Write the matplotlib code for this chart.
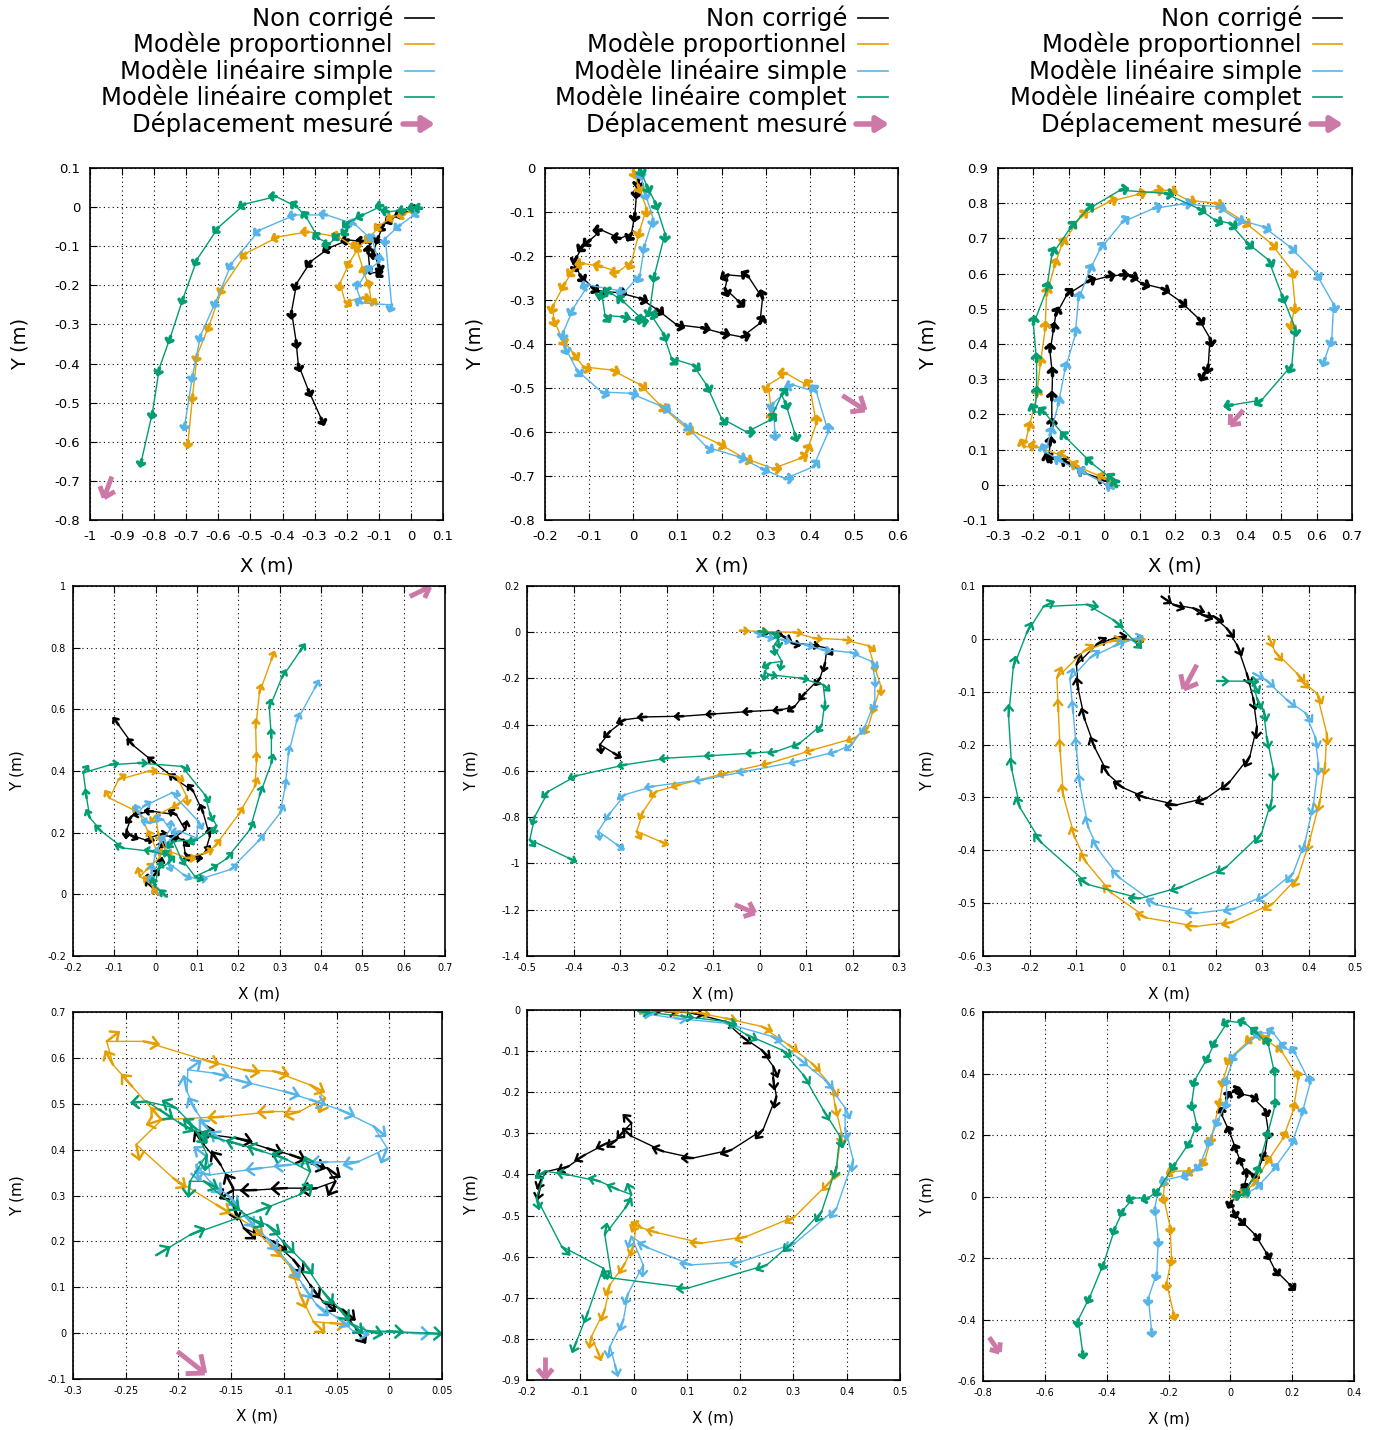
import numpy as np
import matplotlib
matplotlib.use("Agg")
import matplotlib.pyplot as plt
from matplotlib.collections import LineCollection
from matplotlib.ticker import FuncFormatter, FixedLocator

# ---------------- legend / styles ----------------
series_labels = ["Non corrigé", "Modèle proportionnel", "Modèle linéaire simple", "Modèle linéaire complet"]
measured_label = "Déplacement mesuré"
series_colors = ["#000000", "#E69F00", "#56B4E9", "#009E73"]
pink = "#CC79A7"

# ---------------- panel 1 ----------------
p1_black_x = [0.023, -0.029, -0.060, -0.086, -0.101, -0.117, -0.101, -0.091, -0.127, -0.133, -0.127, -0.148, -0.195, -0.254, -0.312, -0.356, -0.372, -0.358, -0.351, -0.320, -0.280]
p1_black_y = [-0.003, -0.016, -0.030, -0.046, -0.076, -0.114, -0.148, -0.165, -0.169, -0.118, -0.093, -0.088, -0.084, -0.104, -0.139, -0.195, -0.267, -0.342, -0.402, -0.467, -0.540]
p1_orange_x = [0.013, -0.020, -0.055, -0.096, -0.127, -0.160, -0.190, -0.221, -0.205, -0.150, -0.122, -0.130, -0.145, -0.169, -0.226, -0.320, -0.413, -0.514, -0.587, -0.628, -0.666, -0.680, -0.694]
p1_orange_y = [-0.003, -0.018, -0.024, -0.046, -0.076, -0.100, -0.139, -0.195, -0.242, -0.232, -0.250, -0.205, -0.170, -0.105, -0.076, -0.063, -0.076, -0.118, -0.206, -0.301, -0.378, -0.480, -0.598]
p1_blue_x = [0.023, -0.034, -0.080, -0.060, -0.153, -0.169, -0.138, -0.100, -0.120, -0.174, -0.263, -0.361, -0.472, -0.559, -0.607, -0.655, -0.680, -0.704]
p1_blue_y = [-0.012, -0.046, -0.080, -0.250, -0.245, -0.208, -0.165, -0.140, -0.085, -0.044, -0.020, -0.020, -0.059, -0.144, -0.240, -0.327, -0.429, -0.553]
p1_green_x = [0.033, 0.013, -0.018, -0.070, -0.088, -0.150, -0.195, -0.200, -0.226, -0.254, -0.288, -0.325, -0.356, -0.420, -0.517, -0.600, -0.666, -0.709, -0.749, -0.784, -0.805, -0.839]
p1_green_y = [-0.003, -0.001, -0.007, -0.012, 0.004, -0.020, -0.039, -0.058, -0.071, -0.094, -0.080, -0.027, 0.001, 0.027, 0.008, -0.052, -0.133, -0.231, -0.331, -0.412, -0.523, -0.646]
p1_pink_x = [-0.932, -0.956]
p1_pink_y = [-0.689, -0.743]

# ---------------- panel 2 ----------------
p2_black_x = [0.015, 0.012, 0.008, 0.004, -0.004, -0.030, -0.072, -0.098, -0.113, -0.128, -0.132, -0.121, -0.094, -0.075, -0.034, 0.015, 0.053, 0.098, 0.155, 0.200, 0.246, 0.287, 0.293, 0.261, 0.215, 0.208, 0.238]
p2_black_y = [-0.005, -0.027, -0.050, -0.103, -0.149, -0.160, -0.141, -0.164, -0.175, -0.202, -0.217, -0.243, -0.270, -0.281, -0.283, -0.296, -0.321, -0.356, -0.363, -0.375, -0.384, -0.353, -0.296, -0.247, -0.243, -0.274, -0.302]
p2_orange_x = [0.000, 0.011, 0.030, 0.015, -0.004, -0.034, -0.072, -0.113, -0.136, -0.155, -0.181, -0.181, -0.162, -0.136, -0.113, -0.049, 0.015, 0.061, 0.121, 0.193, 0.253, 0.317, 0.378, 0.393, 0.415, 0.400, 0.347, 0.306, 0.313]
p2_orange_y = [-0.005, -0.039, -0.092, -0.141, -0.213, -0.236, -0.224, -0.217, -0.232, -0.262, -0.312, -0.342, -0.387, -0.421, -0.452, -0.459, -0.492, -0.539, -0.592, -0.626, -0.660, -0.683, -0.660, -0.645, -0.581, -0.497, -0.467, -0.493, -0.554]
p2_blue_x = [0.015, 0.026, 0.045, 0.026, 0.015, -0.019, -0.102, -0.136, -0.158, -0.155, -0.128, -0.072, -0.007, 0.068, 0.117, 0.166, 0.238, 0.291, 0.344, 0.408, 0.442, 0.415, 0.362, 0.317, 0.321]
p2_blue_y = [-0.008, -0.054, -0.115, -0.175, -0.243, -0.281, -0.266, -0.319, -0.372, -0.406, -0.459, -0.509, -0.512, -0.543, -0.583, -0.634, -0.656, -0.683, -0.706, -0.679, -0.600, -0.509, -0.493, -0.535, -0.600]
p2_green_x = [0.015, 0.030, 0.049, 0.072, 0.049, 0.038, 0.023, -0.022, -0.049, -0.072, -0.064, -0.026, 0.015, 0.038, 0.068, 0.087, 0.136, 0.166, 0.200, 0.257, 0.310, 0.336, 0.344, 0.366]
p2_green_y = [-0.001, -0.039, -0.077, -0.149, -0.240, -0.319, -0.346, -0.304, -0.285, -0.281, -0.335, -0.338, -0.350, -0.330, -0.376, -0.433, -0.448, -0.493, -0.569, -0.600, -0.573, -0.516, -0.531, -0.603]
p2_pink_x = [0.474, 0.525]
p2_pink_y = [-0.517, -0.550]

# ---------------- panel 3 ----------------
p3_black_x = [0.030, 0.002, -0.054, -0.101, -0.139, -0.158, -0.153, -0.148, -0.148, -0.146, -0.153, -0.144, -0.137, -0.106, -0.047, 0.007, 0.045, 0.073, 0.106, 0.163, 0.214, 0.266, 0.299, 0.294, 0.283]
p3_black_y = [0.000, 0.013, 0.033, 0.061, 0.075, 0.066, 0.113, 0.165, 0.241, 0.310, 0.378, 0.437, 0.482, 0.539, 0.577, 0.591, 0.596, 0.594, 0.572, 0.558, 0.522, 0.473, 0.416, 0.340, 0.317]
p3_orange_x = [0.030, 0.002, -0.073, -0.111, -0.191, -0.226, -0.214, -0.191, -0.181, -0.167, -0.163, -0.141, -0.120, -0.066, 0.014, 0.095, 0.144, 0.183, 0.236, 0.313, 0.393, 0.471, 0.530, 0.539, 0.530]
p3_orange_y = [0.000, 0.018, 0.051, 0.080, 0.108, 0.108, 0.156, 0.250, 0.340, 0.440, 0.539, 0.620, 0.681, 0.762, 0.804, 0.825, 0.835, 0.837, 0.809, 0.800, 0.749, 0.686, 0.610, 0.511, 0.463]
p3_blue_x = [0.026, -0.054, -0.120, -0.167, -0.153, -0.130, -0.111, -0.082, -0.073, -0.043, -0.012, 0.051, 0.139, 0.224, 0.321, 0.374, 0.450, 0.525, 0.598, 0.648, 0.643, 0.624]
p3_blue_y = [-0.010, 0.033, 0.066, 0.094, 0.141, 0.227, 0.326, 0.425, 0.525, 0.605, 0.669, 0.746, 0.785, 0.798, 0.790, 0.755, 0.733, 0.676, 0.601, 0.513, 0.416, 0.359]
p3_green_x = [0.035, 0.026, -0.035, -0.106, -0.167, -0.197, -0.191, -0.191, -0.200, -0.163, -0.148, -0.096, -0.049, 0.045, 0.172, 0.266, 0.313, 0.355, 0.403, 0.464, 0.502, 0.539, 0.530, 0.445, 0.362]
p3_green_y = [-0.005, 0.014, 0.061, 0.132, 0.203, 0.208, 0.255, 0.350, 0.456, 0.553, 0.653, 0.729, 0.781, 0.837, 0.828, 0.785, 0.752, 0.743, 0.688, 0.639, 0.539, 0.446, 0.340, 0.241, 0.227]
p3_pink_x = [0.393, 0.356]
p3_pink_y = [0.212, 0.170]

# ---------------- panel 4 ----------------
p4_black_x = [0.006, -0.010, -0.022, -0.006, 0.010, 0.010, 0.035, 0.071, 0.050, -0.006, -0.034, -0.058, -0.070, -0.062, -0.026, 0.006, 0.035, 0.067, 0.071, 0.091, 0.119, 0.131, 0.115, 0.091, 0.050, -0.002, -0.054, -0.090]
p4_black_y = [-0.001, 0.026, 0.037, 0.058, 0.091, 0.145, 0.172, 0.210, 0.258, 0.269, 0.264, 0.253, 0.210, 0.193, 0.177, 0.193, 0.188, 0.177, 0.134, 0.118, 0.134, 0.188, 0.264, 0.334, 0.372, 0.426, 0.483, 0.550]
p4_orange_x = [0.006, -0.014, -0.038, -0.022, 0.010, -0.010, -0.040, -0.111, -0.090, -0.018, 0.050, 0.075, 0.059, 0.000, 0.006, 0.023, 0.075, 0.119, 0.143, 0.200, 0.240, 0.244, 0.242, 0.251, 0.280]
p4_orange_y = [-0.001, 0.037, 0.058, 0.080, 0.120, 0.180, 0.265, 0.312, 0.372, 0.399, 0.383, 0.318, 0.296, 0.255, 0.200, 0.145, 0.118, 0.134, 0.156, 0.258, 0.350, 0.431, 0.540, 0.653, 0.761]
p4_blue_x = [0.023, -0.006, -0.010, -0.002, 0.010, 0.035, 0.018, -0.014, -0.042, -0.030, 0.039, 0.103, 0.099, 0.059, 0.035, 0.031, 0.067, 0.103, 0.180, 0.248, 0.301, 0.313, 0.321, 0.341, 0.385]
p4_blue_y = [-0.006, 0.037, 0.069, 0.123, 0.166, 0.210, 0.242, 0.231, 0.264, 0.285, 0.329, 0.237, 0.183, 0.204, 0.177, 0.102, 0.064, 0.048, 0.080, 0.172, 0.264, 0.345, 0.453, 0.561, 0.669]
p4_green_x = [0.027, -0.002, 0.006, 0.031, 0.035, -0.006, -0.078, -0.131, -0.159, -0.167, -0.175, -0.111, -0.042, 0.063, 0.119, 0.131, 0.147, 0.099, 0.043, 0.060, 0.095, 0.131, 0.171, 0.228, 0.252, 0.280, 0.280, 0.275, 0.305, 0.349]
p4_green_y = [-0.007, 0.026, 0.080, 0.102, 0.123, 0.139, 0.150, 0.204, 0.248, 0.312, 0.394, 0.420, 0.426, 0.415, 0.323, 0.264, 0.223, 0.177, 0.172, 0.120, 0.058, 0.080, 0.115, 0.210, 0.323, 0.426, 0.507, 0.604, 0.702, 0.788]
p4_pink_x = [0.615, 0.663]
p4_pink_y = [0.966, 0.997]

# ---------------- panel 5 ----------------
p5_black_x = [0.000, 0.030, 0.051, 0.069, 0.109, 0.145, 0.141, 0.130, 0.098, 0.076, 0.048, -0.017, -0.096, -0.164, -0.243, -0.289, -0.321, -0.343, -0.314]
p5_black_y = [0.000, -0.005, -0.018, -0.046, -0.054, -0.068, -0.133, -0.198, -0.263, -0.320, -0.335, -0.342, -0.353, -0.363, -0.366, -0.378, -0.428, -0.486, -0.522]
p5_orange_x = [-0.042, -0.002, 0.073, 0.116, 0.180, 0.234, 0.245, 0.261, 0.248, 0.234, 0.205, 0.116, 0.023, -0.071, -0.171, -0.221, -0.250, -0.264, -0.214]
p5_orange_y = [0.007, 0.004, 0.000, -0.025, -0.032, -0.058, -0.133, -0.234, -0.313, -0.407, -0.457, -0.508, -0.565, -0.609, -0.659, -0.688, -0.774, -0.861, -0.904]
p5_blue_x = [-0.010, 0.012, 0.048, 0.098, 0.134, 0.195, 0.241, 0.248, 0.248, 0.227, 0.198, 0.166, 0.083, -0.028, -0.121, -0.228, -0.289, -0.321, -0.347, -0.307]
p5_blue_y = [0.000, -0.018, -0.032, -0.054, -0.075, -0.087, -0.126, -0.198, -0.299, -0.407, -0.486, -0.515, -0.558, -0.601, -0.637, -0.666, -0.702, -0.781, -0.861, -0.918]
p5_green_x = [-0.002, 0.026, 0.040, 0.030, 0.048, 0.023, 0.012, 0.019, 0.087, 0.137, 0.141, 0.134, 0.087, 0.037, -0.010, -0.099, -0.196, -0.286, -0.393, -0.454, -0.483, -0.494, -0.411]
p5_green_y = [0.004, -0.003, -0.030, -0.061, -0.126, -0.133, -0.169, -0.183, -0.198, -0.227, -0.299, -0.400, -0.479, -0.515, -0.522, -0.533, -0.544, -0.572, -0.620, -0.688, -0.796, -0.897, -0.976]
p5_pink_x = [-0.053, -0.010]
p5_pink_y = [-1.178, -1.214]

# ---------------- panel 6 ----------------
p6_black_x = [0.020, -0.016, -0.056, -0.099, -0.095, -0.081, -0.059, -0.030, 0.002, 0.052, 0.117, 0.181, 0.231, 0.274, 0.289, 0.281, 0.267, 0.246, 0.224, 0.195, 0.170, 0.152, 0.109, 0.084]
p6_black_y = [-0.002, 0.002, -0.011, -0.049, -0.096, -0.153, -0.207, -0.257, -0.282, -0.301, -0.314, -0.301, -0.270, -0.222, -0.166, -0.112, -0.065, -0.011, 0.020, 0.043, 0.046, 0.058, 0.065, 0.080]
p6_orange_x = [0.023, -0.027, -0.084, -0.141, -0.138, -0.134, -0.127, -0.102, -0.077, -0.023, 0.052, 0.160, 0.238, 0.324, 0.378, 0.403, 0.425, 0.436, 0.439, 0.418, 0.382, 0.375, 0.328, 0.314]
p6_orange_y = [-0.002, -0.005, -0.024, -0.074, -0.137, -0.213, -0.298, -0.377, -0.424, -0.481, -0.528, -0.544, -0.535, -0.500, -0.450, -0.380, -0.304, -0.235, -0.178, -0.103, -0.077, -0.065, -0.024, 0.005]
p6_blue_x = [0.020, -0.019, -0.070, -0.113, -0.106, -0.099, -0.091, -0.073, -0.052, -0.005, 0.074, 0.160, 0.242, 0.310, 0.367, 0.393, 0.411, 0.421, 0.414, 0.393, 0.353, 0.307, 0.281]
p6_blue_y = [-0.002, -0.014, -0.036, -0.077, -0.140, -0.210, -0.279, -0.358, -0.399, -0.453, -0.503, -0.519, -0.510, -0.484, -0.443, -0.383, -0.311, -0.235, -0.185, -0.140, -0.115, -0.077, -0.065]
p6_green_x = [0.023, -0.020, -0.077, -0.170, -0.206, -0.235, -0.245, -0.238, -0.220, -0.174, -0.073, 0.038, 0.127, 0.224, 0.299, 0.321, 0.324, 0.310, 0.303, 0.289, 0.281, 0.267, 0.203]
p6_green_y = [-0.002, 0.036, 0.065, 0.061, 0.011, -0.055, -0.147, -0.248, -0.320, -0.386, -0.465, -0.491, -0.469, -0.431, -0.368, -0.304, -0.245, -0.185, -0.134, -0.112, -0.084, -0.080, -0.080]
p6_pink_x = [0.160, 0.132]
p6_pink_y = [-0.049, -0.095]

# ---------------- panel 7 ----------------
p7_black_x = [-0.031, -0.044, -0.063, -0.075, -0.091, -0.110, -0.138, -0.148, -0.148, -0.126, -0.097, -0.069, -0.051, -0.059, -0.075, -0.094, -0.116, -0.145, -0.181, -0.176, -0.160, -0.148]
p7_black_y = [0.007, 0.051, 0.069, 0.105, 0.160, 0.200, 0.229, 0.280, 0.312, 0.312, 0.316, 0.316, 0.331, 0.360, 0.371, 0.389, 0.403, 0.425, 0.436, 0.411, 0.367, 0.316]
p7_orange_x = [-0.056, -0.072, -0.085, -0.094, -0.113, -0.132, -0.164, -0.205, -0.240, -0.216, -0.157, -0.110, -0.085, -0.061, -0.075, -0.110, -0.138, -0.176, -0.233, -0.268, -0.262, -0.244, -0.216]
p7_orange_y = [0.022, 0.025, 0.087, 0.145, 0.192, 0.236, 0.280, 0.338, 0.411, 0.465, 0.472, 0.483, 0.483, 0.513, 0.541, 0.571, 0.574, 0.596, 0.636, 0.636, 0.585, 0.538, 0.465]
p7_blue_x = [0.023, -0.034, -0.050, -0.069, -0.082, -0.094, -0.116, -0.138, -0.154, -0.170, -0.183, -0.173, -0.170, -0.121, -0.094, -0.059, -0.029, -0.002, -0.015, -0.047, -0.075, -0.100, -0.145, -0.167, -0.191, -0.192, -0.183, -0.170, -0.157]
p7_blue_y = [0.000, 0.004, 0.035, 0.062, 0.105, 0.149, 0.207, 0.258, 0.302, 0.330, 0.367, 0.385, 0.345, 0.360, 0.367, 0.373, 0.374, 0.403, 0.451, 0.487, 0.509, 0.527, 0.552, 0.567, 0.574, 0.527, 0.483, 0.440, 0.418]
p7_green_x = [0.035, -0.002, -0.021, -0.037, -0.048, -0.063, -0.082, -0.101, -0.116, -0.132, -0.154, -0.176, -0.189, -0.173, -0.183, -0.199, -0.218, -0.230, -0.202, -0.183, -0.164, -0.140, -0.120, -0.097, -0.075, -0.085, -0.126, -0.189, -0.221]
p7_green_y = [0.000, 0.004, 0.005, 0.022, 0.055, 0.091, 0.156, 0.200, 0.236, 0.251, 0.290, 0.331, 0.331, 0.389, 0.440, 0.458, 0.487, 0.505, 0.490, 0.445, 0.425, 0.410, 0.396, 0.378, 0.352, 0.302, 0.265, 0.214, 0.170]
p7_pink_x = [-0.201, -0.175]
p7_pink_y = [-0.040, -0.087]

# ---------------- panel 8 ----------------
p8_black_x = [0.030, 0.059, 0.109, 0.172, 0.203, 0.240, 0.262, 0.262, 0.268, 0.243, 0.184, 0.112, 0.056, -0.004, -0.004, -0.016, -0.032, -0.050, -0.091, -0.122, -0.163, -0.172, -0.176]
p8_black_y = [0.000, -0.003, -0.007, -0.028, -0.064, -0.097, -0.137, -0.165, -0.210, -0.291, -0.340, -0.360, -0.344, -0.307, -0.275, -0.291, -0.316, -0.324, -0.352, -0.380, -0.393, -0.409, -0.433]
p8_orange_x = [0.002, 0.065, 0.121, 0.172, 0.240, 0.290, 0.334, 0.372, 0.378, 0.390, 0.381, 0.369, 0.303, 0.212, 0.128, 0.046, 0.015, 0.006, 0.000, -0.016, -0.044, -0.054, -0.079, -0.069]
p8_orange_y = [0.001, -0.003, -0.007, -0.020, -0.040, -0.084, -0.129, -0.186, -0.230, -0.299, -0.384, -0.417, -0.502, -0.551, -0.567, -0.542, -0.530, -0.514, -0.571, -0.616, -0.668, -0.729, -0.794, -0.826]
p8_blue_x = [0.012, 0.078, 0.172, 0.259, 0.309, 0.359, 0.397, 0.397, 0.412, 0.381, 0.303, 0.203, 0.109, 0.028, -0.004, 0.018, -0.010, -0.019, -0.044, -0.035]
p8_blue_y = [-0.007, -0.020, -0.032, -0.064, -0.117, -0.170, -0.238, -0.287, -0.364, -0.482, -0.567, -0.612, -0.620, -0.579, -0.551, -0.620, -0.689, -0.753, -0.818, -0.863]
p8_green_x = [0.009, 0.090, 0.172, 0.212, 0.278, 0.318, 0.356, 0.387, 0.381, 0.353, 0.297, 0.250, 0.103, -0.041, -0.054, -0.016, -0.004, -0.029, -0.063, -0.122, -0.166, -0.182, -0.135, -0.057, -0.085, -0.107]
p8_green_y = [-0.003, -0.015, -0.028, -0.060, -0.097, -0.157, -0.243, -0.307, -0.380, -0.490, -0.567, -0.620, -0.676, -0.652, -0.547, -0.482, -0.449, -0.437, -0.417, -0.401, -0.392, -0.457, -0.575, -0.628, -0.733, -0.806]
p8_pink_x = [-0.166, -0.166]
p8_pink_y = [-0.843, -0.895]

# ---------------- panel 9 ----------------
p9_black_x = [0.010, 0.042, 0.053, 0.037, 0.020, -0.001, -0.028, -0.012, 0.010, 0.020, 0.069, 0.112, 0.123, 0.112, 0.085, 0.053, 0.004, 0.010, 0.031, 0.080, 0.117, 0.144, 0.193]
p9_black_y = [0.000, 0.022, 0.066, 0.104, 0.147, 0.206, 0.266, 0.320, 0.342, 0.337, 0.326, 0.282, 0.212, 0.141, 0.076, 0.028, -0.016, -0.048, -0.075, -0.124, -0.184, -0.238, -0.287]
p9_orange_x = [0.004, 0.031, 0.074, 0.117, 0.171, 0.204, 0.220, 0.166, 0.123, 0.107, 0.069, -0.001, -0.023, -0.033, -0.060, -0.082, -0.120, -0.184, -0.211, -0.217, -0.195, -0.190, -0.206, -0.184]
p9_orange_y = [0.001, 0.006, 0.038, 0.109, 0.190, 0.282, 0.385, 0.472, 0.505, 0.521, 0.515, 0.450, 0.380, 0.315, 0.196, 0.120, 0.084, 0.082, 0.055, 0.001, -0.097, -0.200, -0.281, -0.379]
p9_blue_x = [0.010, 0.042, 0.085, 0.139, 0.198, 0.231, 0.258, 0.209, 0.177, 0.139, 0.096, 0.015, -0.012, -0.012, -0.039, -0.066, -0.098, -0.136, -0.206, -0.233, -0.244, -0.233, -0.238, -0.265, -0.255]
p9_blue_y = [0.000, 0.006, 0.028, 0.087, 0.169, 0.266, 0.369, 0.467, 0.483, 0.532, 0.532, 0.461, 0.385, 0.309, 0.250, 0.185, 0.104, 0.071, 0.055, 0.022, -0.037, -0.140, -0.249, -0.330, -0.433]
p9_green_x = [0.010, 0.042, 0.085, 0.117, 0.144, 0.144, 0.123, 0.085, 0.047, -0.007, -0.049, -0.071, -0.114, -0.125, -0.109, -0.130, -0.179, -0.233, -0.265, -0.314, -0.346, -0.373, -0.409, -0.454, -0.492, -0.478]
p9_green_y = [0.001, 0.006, 0.076, 0.190, 0.293, 0.396, 0.494, 0.532, 0.564, 0.570, 0.505, 0.456, 0.380, 0.304, 0.234, 0.179, 0.106, 0.022, -0.005, -0.005, -0.043, -0.102, -0.216, -0.325, -0.401, -0.504]
p9_pink_x = [-0.780, -0.747]
p9_pink_y = [-0.458, -0.506]

# ---------------- layout (pixels) ----------------
W, H = 1381, 1430
fig = plt.figure(figsize=(W / 100, H / 100), dpi=100)

SMALL = dict(alen=6, alw=2.6, ahf=0.75, aang=50)
MID = dict(alen=8, alw=1.9, ahf=0.6, aang=42)
BIG = dict(alen=11, alw=1.7, ahf=0.6, aang=40)
HUGE = dict(alen=15, alw=1.8, ahf=0.6, aang=42)

panels = [
    dict(box=(90, 168, 443, 520), xlim=(-1, 0.1), ylim=(-0.8, 0.1), xt=(-1, 0.1, 0.1), yt=(-0.8, 0.1, 0.1),
         s=[(p1_black_x, p1_black_y), (p1_orange_x, p1_orange_y), (p1_blue_x, p1_blue_y), (p1_green_x, p1_green_y)],
         pk=(p1_pink_x, p1_pink_y), st=SMALL, aoff=0, row=0),
    dict(box=(545, 168, 898, 520), xlim=(-0.2, 0.6), ylim=(-0.8, 0), xt=(-0.2, 0.6, 0.1), yt=(-0.8, 0, 0.1),
         s=[(p2_black_x, p2_black_y), (p2_orange_x, p2_orange_y), (p2_blue_x, p2_blue_y), (p2_green_x, p2_green_y)],
         pk=(p2_pink_x, p2_pink_y), st=dict(SMALL, alen=7), aoff=0, row=0),
    dict(box=(998, 168, 1352, 520), xlim=(-0.3, 0.7), ylim=(-0.1, 0.9), xt=(-0.3, 0.7, 0.1), yt=(-0.1, 0.9, 0.1),
         s=[(p3_black_x, p3_black_y), (p3_orange_x, p3_orange_y), (p3_blue_x, p3_blue_y), (p3_green_x, p3_green_y)],
         pk=(p3_pink_x, p3_pink_y), st=dict(SMALL, alen=7), aoff=0, row=0),
    dict(box=(73, 586, 445, 956), xlim=(-0.2, 0.7), ylim=(-0.2, 1.0), xt=(-0.2, 0.7, 0.1), yt=(-0.2, 1.0, 0.2),
         s=[(p4_black_x, p4_black_y), (p4_orange_x, p4_orange_y), (p4_blue_x, p4_blue_y), (p4_green_x, p4_green_y)],
         pk=(p4_pink_x, p4_pink_y), st=MID, aoff=0, row=1),
    dict(box=(527, 586, 899, 956), xlim=(-0.5, 0.3), ylim=(-1.4, 0.2), xt=(-0.5, 0.3, 0.1), yt=(-1.4, 0.2, 0.2),
         s=[(p5_black_x, p5_black_y), (p5_orange_x, p5_orange_y), (p5_blue_x, p5_blue_y), (p5_green_x, p5_green_y)],
         pk=(p5_pink_x, p5_pink_y), st=MID, aoff=0, row=1),
    dict(box=(983, 586, 1355, 956), xlim=(-0.3, 0.5), ylim=(-0.6, 0.1), xt=(-0.3, 0.5, 0.1), yt=(-0.6, 0.1, 0.1),
         s=[(p6_black_x, p6_black_y), (p6_orange_x, p6_orange_y), (p6_blue_x, p6_blue_y), (p6_green_x, p6_green_y)],
         pk=(p6_pink_x, p6_pink_y), st=BIG, aoff=180, row=1),
    dict(box=(73, 1012, 442, 1379), xlim=(-0.3, 0.05), ylim=(-0.1, 0.7), xt=(-0.3, 0.05, 0.05), yt=(-0.1, 0.7, 0.1),
         s=[(p7_black_x, p7_black_y), (p7_orange_x, p7_orange_y), (p7_blue_x, p7_blue_y), (p7_green_x, p7_green_y)],
         pk=(p7_pink_x, p7_pink_y), st=HUGE, aoff=180, row=2),
    dict(box=(527, 1010, 900, 1380), xlim=(-0.2, 0.5), ylim=(-0.9, 0), xt=(-0.2, 0.5, 0.1), yt=(-0.9, 0, 0.1),
         s=[(p8_black_x, p8_black_y), (p8_orange_x, p8_orange_y), (p8_blue_x, p8_blue_y), (p8_green_x, p8_green_y)],
         pk=(p8_pink_x, p8_pink_y), st=BIG, aoff=0, row=2),
    dict(box=(983, 1012, 1354, 1381), xlim=(-0.8, 0.4), ylim=(-0.6, 0.6), xt=(-0.8, 0.4, 0.2), yt=(-0.6, 0.6, 0.2),
         s=[(p9_black_x, p9_black_y), (p9_orange_x, p9_orange_y), (p9_blue_x, p9_blue_y), (p9_green_x, p9_green_y)],
         pk=(p9_pink_x, p9_pink_y), st=SMALL, aoff=0, row=2),
]


def fmt(v, pos):
    v = round(v, 6)
    if abs(v) < 1e-9:
        return "0"
    return f"{v:g}"


def ticks(a, b, st):
    n = int(round((b - a) / st))
    return [round(a + i * st, 6) for i in range(n + 1)]


def arrow_segs(p, q, head_frac, head_ang):
    d = q - p
    L = np.hypot(*d)
    u = d / L
    h = head_frac * L
    segs = [[p, q]]
    for s in (1, -1):
        a = np.deg2rad(180 + s * head_ang)
        r = np.array([u[0] * np.cos(a) - u[1] * np.sin(a), u[0] * np.sin(a) + u[1] * np.cos(a)])
        segs.append([q, q + h * r])
    return segs


def path_arrows(ax, xs, ys, st, off):
    pts = ax.transData.transform(np.column_stack([xs, ys]))
    n = len(pts)
    segs = []
    L = st["alen"]
    for i in range(n):
        d = pts[min(i + 1, n - 1)] - pts[max(i - 1, 0)]
        ang = np.arctan2(d[1], d[0]) + np.deg2rad(off)
        u = np.array([np.cos(ang), np.sin(ang)])
        segs += arrow_segs(pts[i], pts[i] + L * u, st["ahf"], st["aang"])
    inv = ax.transData.inverted()
    return [inv.transform(np.array(s)) for s in segs]


for P in panels:
    l, t, r, b = P["box"]
    ax = fig.add_axes([l / W, 1 - b / H, (r - l) / W, (b - t) / H])
    ax.set_xlim(*P["xlim"])
    ax.set_ylim(*P["ylim"])
    ax.xaxis.set_major_locator(FixedLocator(ticks(*P["xt"])))
    ax.yaxis.set_major_locator(FixedLocator(ticks(*P["yt"])))
    ax.xaxis.set_major_formatter(FuncFormatter(fmt))
    ax.yaxis.set_major_formatter(FuncFormatter(fmt))
    big = P["row"] == 0
    tfs = 9.5 if big else 7
    lfs = 14 if big else 11
    ax.tick_params(direction="in", top=True, right=True, length=5, width=0.8,
                   labelsize=tfs, pad=7 if big else 5)
    ax.grid(True, color="black", linestyle=(0, (1, 3)), linewidth=0.8)
    for sp in ax.spines.values():
        sp.set_linewidth(1.2)
    ax.set_xlabel("X (m)", fontsize=lfs, va="center")
    ax.set_ylabel("Y (m)", fontsize=lfs, va="center")
    if big:
        ax.xaxis.set_label_coords(0.5, -0.131)
        ax.yaxis.set_label_coords(-0.198, 0.5)
    else:
        ax.xaxis.set_label_coords(0.5, -0.102)
        ax.yaxis.set_label_coords(-0.151, 0.5)

    st = P["st"]
    for (xs, ys), c in zip(P["s"], series_colors):
        ax.plot(xs, ys, color=c, lw=1.0, solid_joinstyle="round")
        segs = path_arrows(ax, xs, ys, st, P["aoff"])
        ax.add_collection(LineCollection(segs, colors=c, linewidths=st["alw"], capstyle="round"))

    px, py = P["pk"]
    pts = ax.transData.transform(np.column_stack([px, py]))
    segs = arrow_segs(pts[0], pts[1], 0.55, 40)
    inv = ax.transData.inverted()
    ax.add_collection(LineCollection([inv.transform(np.array(s)) for s in segs],
                                     colors=pink, linewidths=3.5, capstyle="butt", joinstyle="miter"))

# ---------------- legends (pixel overlay) ----------------
ov = fig.add_axes([0, 0, 1, 1], zorder=-1)
ov.set_xlim(0, W)
ov.set_ylim(H, 0)
ov.axis("off")
legend_cols = [(393, 405, 434), (847, 858, 888), (1302, 1313, 1342)]
row_y = [18, 44, 71, 97, 124]
for tx, l0, l1 in legend_cols:
    for lab, c, y in zip(series_labels, series_colors, row_y):
        ov.text(tx, y, lab, ha="right", va="center", fontsize=17.5)
        ov.plot([l0, l1], [y, y], color=c, lw=1.2)
    ov.text(tx, row_y[4], measured_label, ha="right", va="center", fontsize=17.5)
    ov.annotate("", xy=(l1 + 1, row_y[4]), xytext=(l0 - 2, row_y[4]),
                arrowprops=dict(arrowstyle="-|>,head_length=0.7,head_width=0.45",
                                color=pink, lw=4, shrinkA=0, shrinkB=0))

fig.savefig("out.png", dpi=100)
